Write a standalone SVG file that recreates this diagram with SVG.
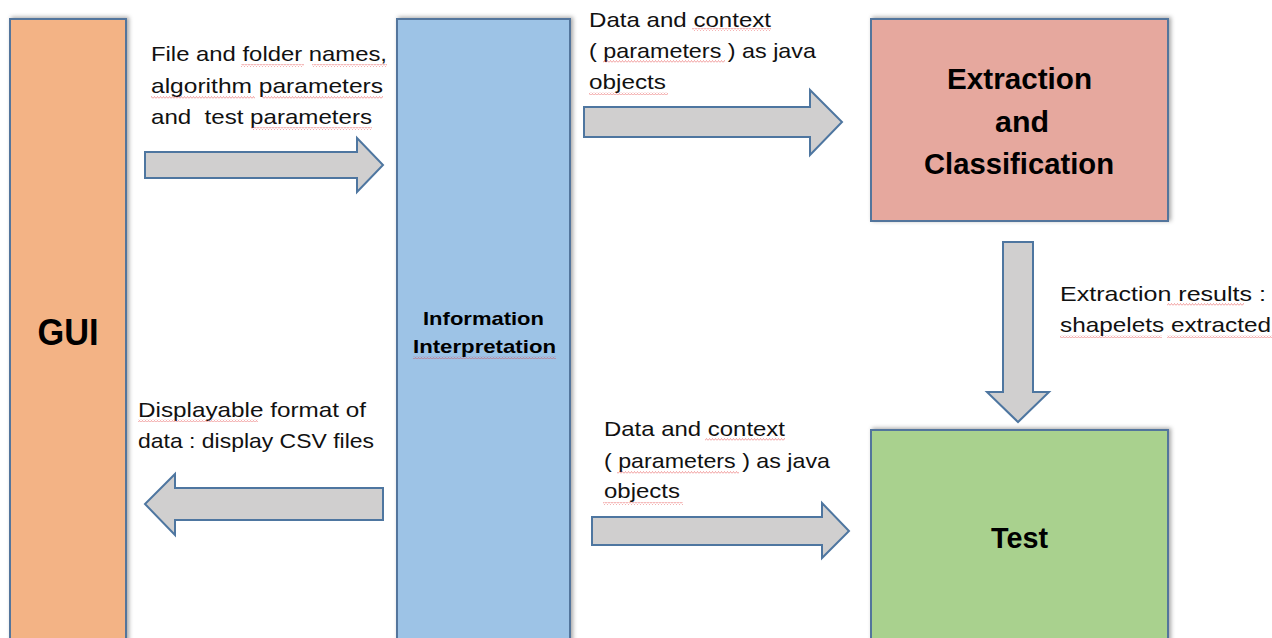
<svg xmlns="http://www.w3.org/2000/svg" width="1272" height="638" viewBox="0 0 1272 638">
<style>
.box{stroke:#52759c;stroke-width:2;filter:url(#sh)}
.arr{fill:#d0cfcf;stroke:#4e76a0;stroke-width:2;stroke-linejoin:miter}
.t{font-family:"Liberation Sans",Arial,sans-serif;font-size:21px;fill:#111}
.b{font-family:"Liberation Sans",Arial,sans-serif;font-weight:bold;fill:#000;text-anchor:middle}
.sq{fill:url(#squig);opacity:0.75}
</style>
<defs>
<filter id="sh" x="-10%" y="-10%" width="120%" height="120%">
<feDropShadow dx="2" dy="-1" stdDeviation="2" flood-color="#000" flood-opacity="0.35"/>
</filter>
<pattern id="squig" width="3" height="3" patternUnits="userSpaceOnUse">
<path d="M0 2.5 L1.5 0.5 L3 2.5" fill="none" stroke="#e03030" stroke-width="0.6"/>
</pattern>
</defs>

<g id="gui">
<rect class="box" x="10" y="19" width="116" height="640" fill="#f3b385"/>
<text class="b" x="68" y="345" font-size="37" textLength="61" lengthAdjust="spacingAndGlyphs">GUI</text>
</g>

<g id="info">
<rect class="box" x="397" y="19" width="173" height="640" fill="#9dc3e6"/>
<text class="b" x="483.5" y="325" font-size="19" textLength="121" lengthAdjust="spacingAndGlyphs">Information</text>
<text class="b" x="484.5" y="353" font-size="19" textLength="143" lengthAdjust="spacingAndGlyphs">Interpretation</text>
<rect class="sq" x="413" y="356" width="143" height="3"/>
</g>

<g id="extraction">
<rect class="box" x="871" y="19" width="297" height="202" fill="#e6a89e"/>
<text class="b" x="1019.5" y="89" font-size="29" textLength="145" lengthAdjust="spacingAndGlyphs">Extraction</text>
<text class="b" x="1022" y="132" font-size="29" textLength="54" lengthAdjust="spacingAndGlyphs">and</text>
<text class="b" x="1019" y="174" font-size="29" textLength="190" lengthAdjust="spacingAndGlyphs">Classification</text>
</g>

<g id="test">
<rect class="box" x="871" y="430" width="297" height="230" fill="#a9d18e"/>
<text class="b" x="1019.5" y="548" font-size="29" textLength="57" lengthAdjust="spacingAndGlyphs">Test</text>
</g>

<g id="connectors">
<polygon class="arr" points="145,152 357,152 357,138 383,165 357,192 357,178 145,178"/>
<polygon class="arr" points="584,107 810,107 810,90 842,122 810,155 810,137 584,137"/>
<polygon class="arr" points="383,488 175,488 175,474 145,504 175,535 175,520 383,520"/>
<polygon class="arr" points="592,517 822,517 822,503 849,531 822,558 822,545 592,545"/>
<polygon class="arr" points="1003,242 1033,242 1033,392 1049,392 1018,422 987,392 1003,392"/>
</g>

<g id="labels">
<text class="t" x="151" y="61" textLength="236" lengthAdjust="spacingAndGlyphs">File and folder names,</text>
<text class="t" x="151" y="93" textLength="232" lengthAdjust="spacingAndGlyphs">algorithm parameters</text>
<text class="t" x="151" y="124" textLength="221" lengthAdjust="spacingAndGlyphs" xml:space="preserve">and  test parameters</text>

<text class="t" x="589" y="27" textLength="182" lengthAdjust="spacingAndGlyphs">Data and context</text>
<text class="t" x="589" y="58" textLength="227" lengthAdjust="spacingAndGlyphs">( parameters ) as java</text>
<text class="t" x="589" y="89" textLength="77" lengthAdjust="spacingAndGlyphs">objects</text>

<text class="t" x="1060" y="301" textLength="206" lengthAdjust="spacingAndGlyphs">Extraction results :</text>
<text class="t" x="1060" y="332" textLength="211" lengthAdjust="spacingAndGlyphs">shapelets extracted</text>

<text class="t" x="138" y="417" textLength="228" lengthAdjust="spacingAndGlyphs">Displayable format of</text>
<text class="t" x="138" y="448" textLength="236" lengthAdjust="spacingAndGlyphs">data : display CSV files</text>

<text class="t" x="604" y="436" textLength="181" lengthAdjust="spacingAndGlyphs">Data and context</text>
<text class="t" x="604" y="468" textLength="226" lengthAdjust="spacingAndGlyphs">( parameters ) as java</text>
<text class="t" x="604" y="498" textLength="76" lengthAdjust="spacingAndGlyphs">objects</text>

<rect class="sq" x="241" y="64" width="63" height="3"/>
<rect class="sq" x="312" y="64" width="75" height="3"/>
<rect class="sq" x="151" y="96" width="104" height="3"/>
<rect class="sq" x="262" y="96" width="121" height="3"/>
<rect class="sq" x="251" y="127" width="121" height="3"/>
<rect class="sq" x="692" y="28" width="79" height="3"/>
<rect class="sq" x="603" y="60" width="122" height="3"/>
<rect class="sq" x="589" y="92" width="79" height="3"/>
<rect class="sq" x="1167" y="303" width="77" height="3"/>
<rect class="sq" x="1060" y="335" width="102" height="3"/>
<rect class="sq" x="1167" y="335" width="105" height="3"/>
<rect class="sq" x="138" y="419" width="120" height="3"/>
<rect class="sq" x="705" y="438" width="80" height="3"/>
<rect class="sq" x="617" y="471" width="122" height="3"/>
<rect class="sq" x="603" y="502" width="80" height="3"/>
</g>
</svg>
